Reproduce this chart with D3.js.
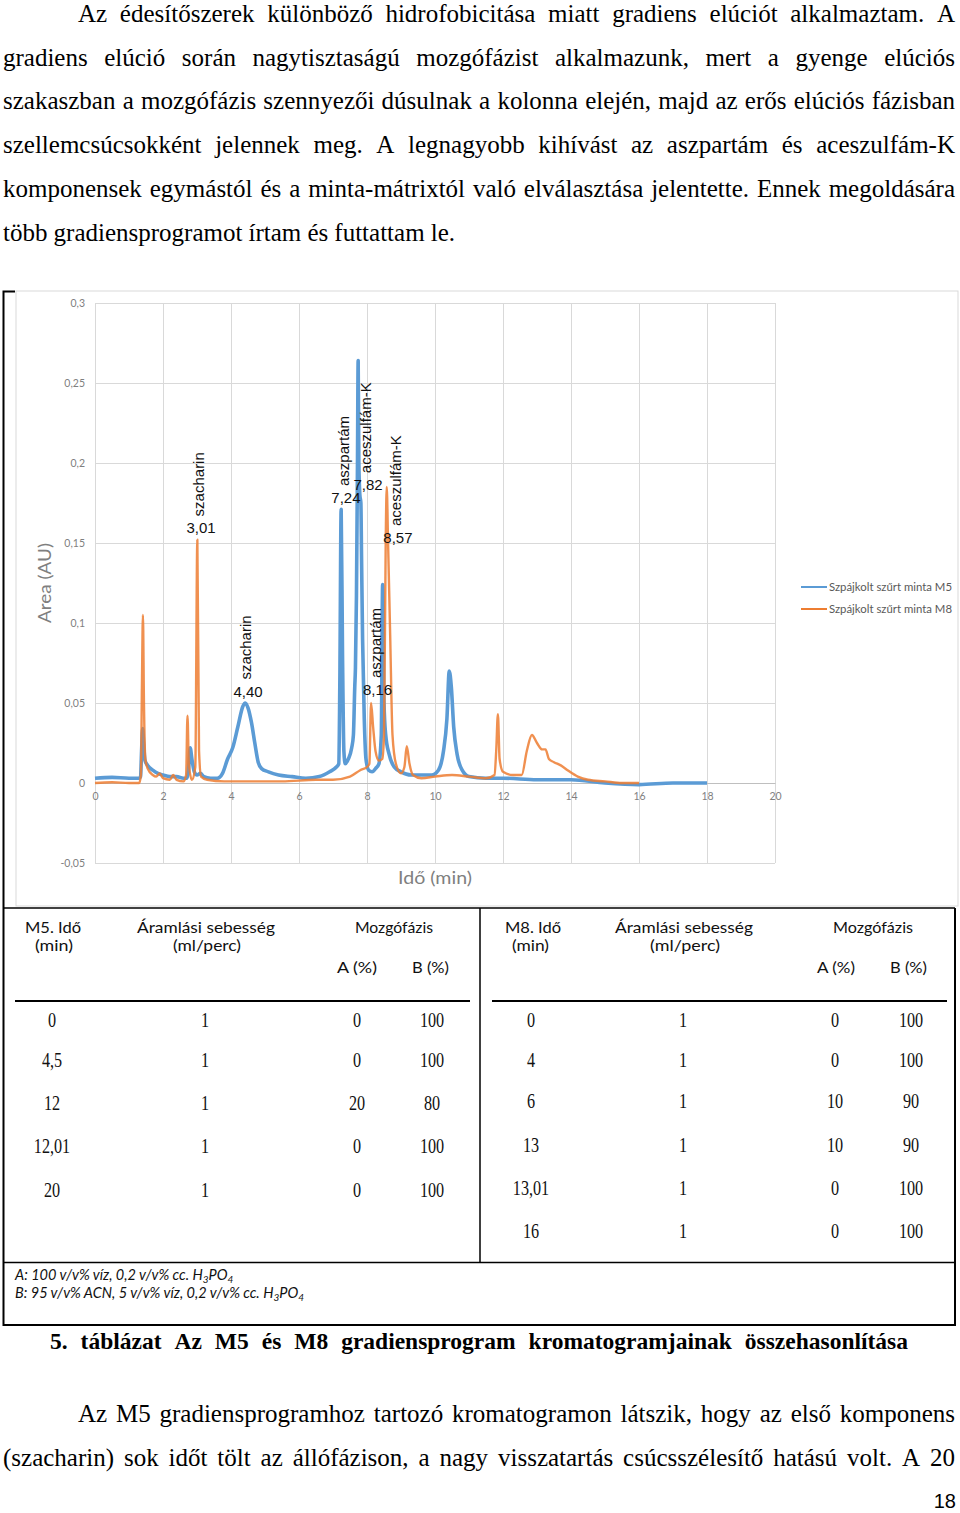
<!DOCTYPE html>
<html><head><meta charset="utf-8">
<script src="https://cdn.jsdelivr.net/npm/d3@7/dist/d3.min.js"></script>
<style>html,body{margin:0;padding:0;background:#fff;}svg{display:block;}</style>
</head><body>
<svg id="page" width="960" height="1513"></svg>
<script>
// ---------------- DATA ----------------
const timeTicks = [0, 2, 4, 6, 8, 10, 12, 14, 16, 18, 20];
const areaTicks = [-0.05, 0, 0.05, 0.1, 0.15, 0.2, 0.25, 0.3];
const seriesNames = ["Szpájkolt szűrt minta M5", "Szpájkolt szűrt minta M8"];

const m5Times = [0,0.5,1.0,1.3,1.34,1.37,1.40,1.43,1.47,1.55,1.7,1.85,2.0,2.2,2.4,2.6,2.7,2.75,2.8,2.85,2.92,3.0,3.1,3.2,3.4,3.6,3.75,3.9,4.05,4.2,4.35,4.42,4.5,4.6,4.7,4.8,4.9,5.1,5.4,5.8,6.2,6.6,6.9,7.1,7.17,7.2,7.24,7.28,7.32,7.36,7.45,7.55,7.6,7.64,7.66,7.69,7.72,7.74,7.76,7.79,7.82,7.84,7.87,7.92,7.97,8.05,8.15,8.25,8.35,8.42,8.46,8.5,8.55,8.65,8.8,9.0,9.3,9.6,9.9,10.1,10.25,10.35,10.42,10.48,10.55,10.65,10.8,11.0,11.5,12,13,14,15,16,17,18];
const m5Values = [0.003,0.0035,0.003,0.003,0.004,0.02,0.034,0.025,0.014,0.011,0.008,0.006,0.005,0.004,0.004,0.003,0.003,0.008,0.022,0.015,0.007,0.005,0.006,0.004,0.003,0.003,0.006,0.015,0.022,0.035,0.048,0.05,0.047,0.038,0.025,0.013,0.009,0.007,0.005,0.004,0.003,0.004,0.007,0.01,0.012,0.06,0.171,0.08,0.02,0.012,0.015,0.022,0.03,0.06,0.072,0.117,0.2,0.264,0.2,0.18,0.175,0.14,0.09,0.04,0.015,0.008,0.007,0.009,0.012,0.03,0.124,0.05,0.03,0.018,0.01,0.007,0.005,0.005,0.005,0.008,0.02,0.04,0.07,0.06,0.035,0.018,0.008,0.004,0.003,0.003,0.002,0.002,0.0,-0.001,0.0,0.0];

const m8Times = [0,0.5,1.0,1.3,1.35,1.38,1.41,1.44,1.48,1.55,1.7,1.8,1.9,2.0,2.2,2.3,2.4,2.6,2.68,2.72,2.76,2.85,2.95,3.01,3.06,3.12,3.3,3.8,4.5,5.5,6.5,7.0,7.5,7.8,8.0,8.07,8.12,8.18,8.25,8.35,8.45,8.5,8.55,8.58,8.62,8.68,8.75,8.85,9.0,9.1,9.17,9.25,9.35,9.6,10,10.5,11,11.5,11.75,11.8,11.85,11.9,12.0,12.3,12.55,12.7,12.85,13.0,13.15,13.25,13.35,13.5,13.7,13.9,14.2,14.5,15,15.5,16];
const m8Values = [0.0,0.0005,0.0,0.0,0.005,0.06,0.105,0.05,0.015,0.009,0.005,0.004,0.006,0.003,0.002,0.005,0.002,0.001,0.005,0.042,0.012,0.002,0.01,0.152,0.02,0.004,0.002,0.001,0.001,0.001,0.002,0.002,0.004,0.008,0.01,0.012,0.05,0.035,0.02,0.014,0.015,0.03,0.15,0.185,0.15,0.094,0.03,0.012,0.006,0.01,0.023,0.012,0.005,0.003,0.004,0.005,0.004,0.003,0.005,0.02,0.043,0.015,0.007,0.005,0.005,0.02,0.03,0.025,0.021,0.021,0.015,0.013,0.011,0.008,0.004,0.002,0.001,0.0,0.0];

const peakNames  = ["szacharin", "szacharin", "aszpartám", "aceszulfám-K", "aceszulfám-K", "aszpartám"];
const peakLabels = ["3,01", "4,40", "7,24", "7,82", "8,57", "8,16"];
const peakLabelTimes  = [3.12, 4.50, 7.38, 8.03, 8.91, 8.31];
const peakLabelValues = [0.156, 0.054, 0.175, 0.183, 0.150, 0.055];

const headerTime = ["M5. Idő", "M8. Idő"];
const headerUnit = "(min)";
const headerFlow = "Áramlási sebesség";
const headerFlowUnit = "(ml/perc)";
const headerPhase = "Mozgófázis";
const headerA = "A (%)";
const headerB = "B (%)";
const m5TableTime = ["0", "4,5", "12", "12,01", "20"];
const m5TableFlow = ["1", "1", "1", "1", "1"];
const m5TableA = ["0", "0", "20", "0", "0"];
const m5TableB = ["100", "100", "80", "100", "100"];
const m8TableTime = ["0", "4", "6", "13", "13,01", "16"];
const m8TableFlow = ["1", "1", "1", "1", "1", "1"];
const m8TableA = ["0", "0", "10", "10", "0", "0"];
const m8TableB = ["100", "100", "90", "90", "100", "100"];

const paraTop = [
  "Az édesítőszerek különböző hidrofobicitása miatt gradiens elúciót alkalmaztam. A",
  "gradiens elúció során nagytisztaságú mozgófázist alkalmazunk, mert a gyenge elúciós",
  "szakaszban a mozgófázis szennyezői dúsulnak a kolonna elején, majd az erős elúciós fázisban",
  "szellemcsúcsokként jelennek meg. A legnagyobb kihívást az aszpartám és aceszulfám-K",
  "komponensek egymástól és a minta-mátrixtól való elválasztása jelentette. Ennek megoldására",
  "több gradiensprogramot írtam és futtattam le."
];
const caption = "5. táblázat Az M5 és M8 gradiensprogram kromatogramjainak összehasonlítása";
const paraBottom = [
  "Az M5 gradiensprogramhoz tartozó kromatogramon látszik, hogy az első komponens",
  "(szacharin) sok időt tölt az állófázison, a nagy visszatartás csúcsszélesítő hatású volt. A 20"
];
const pageNumber = "18";

// ---------------- DRAW ----------------
const svg = d3.select("#page");
const serif = "'Liberation Serif','Times New Roman',serif";
const sans = "Lato,'Liberation Sans',sans-serif";
const arial = "'Liberation Sans',Arial,sans-serif";

function justify(g, text, x0, x1, baseline, size, weight) {
  const words = text.split(" ");
  const nodes = words.map(w => g.append("text").attr("y", baseline)
    .attr("font-family", serif).attr("font-size", size).attr("font-weight", weight || "normal")
    .attr("fill", "#000").text(w));
  const widths = nodes.map(n => n.node().getComputedTextLength());
  const total = d3.sum(widths);
  const gap = words.length > 1 ? (x1 - x0 - total) / (words.length - 1) : 0;
  let x = x0;
  nodes.forEach((n, i) => { n.attr("x", x); x += widths[i] + gap; });
}

// Top paragraph
const tp = svg.append("g");
const topBase = [21.7, 65.5, 109.3, 153.1, 196.9, 240.7];
const topStart = [78, 3, 3, 3, 3, 3];
const topEnd = [955, 955, 955, 955, 955, 455];
paraTop.forEach((l, i) => justify(tp, l, topStart[i], topEnd[i], topBase[i], 25));

// Chart frame
svg.append("rect").attr("x", 16).attr("y", 291).attr("width", 942).attr("height", 615)
  .attr("fill", "#fff").attr("stroke", "#d9d9d9").attr("stroke-width", 1);

const x = d3.scaleLinear().domain([0, 20]).range([95, 775]);
const y = d3.scaleLinear().domain([-0.05, 0.3]).range([863, 303]);
const fmt = d => String(+d.toFixed(2)).replace(".", ",");

const chart = svg.append("g");
// gridlines
chart.append("g").attr("transform", "translate(95,0)")
  .call(d3.axisLeft(y).tickValues(areaTicks).tickSize(-680).tickFormat(""))
  .call(g => g.select(".domain").remove())
  .call(g => g.selectAll("line").attr("stroke", "#d9d9d9"));
chart.append("g").attr("transform", "translate(0,863)")
  .call(d3.axisBottom(x).tickValues(timeTicks).tickSize(-560).tickFormat(""))
  .call(g => g.select(".domain").remove())
  .call(g => g.selectAll("line").attr("stroke", "#d9d9d9"));

// y tick labels
chart.append("g").attr("transform", "translate(95,0)")
  .call(d3.axisLeft(y).tickValues(areaTicks).tickSize(0).tickPadding(10).tickFormat(fmt))
  .call(g => g.select(".domain").remove())
  .call(g => g.selectAll("text").attr("fill", "#7f7f7f").attr("font-size", 10.5).attr("font-family", sans));
// x axis at zero
chart.append("g").attr("transform", `translate(0,${y(0)})`)
  .call(d3.axisBottom(x).tickValues(timeTicks).tickSize(0).tickPadding(10).tickFormat(d => d))
  .call(g => g.select(".domain").attr("stroke", "#bfbfbf"))
  .call(g => g.selectAll("text").attr("fill", "#7f7f7f").attr("font-size", 10.5).attr("font-family", sans));

// lines
const line = d3.line().x(d => x(d[0])).y(d => y(d[1])).curve(d3.curveMonotoneX);
const m5 = m5Times.map((t, i) => [t, m5Values[i]]);
const m8 = m8Times.map((t, i) => [t, m8Values[i]]);
chart.append("path").datum(m5).attr("d", line).attr("fill", "none")
  .attr("stroke", "#5b9bd5").attr("stroke-width", 3.6).attr("stroke-linejoin", "round");
chart.append("path").datum(m8).attr("d", line).attr("fill", "none")
  .attr("stroke", "#ed7d31").attr("stroke-opacity", 0.85).attr("stroke-width", 2.4).attr("stroke-linejoin", "round");

// annotations
peakLabels.forEach((lab, i) => {
  const cx = x(peakLabelTimes[i]), by = y(peakLabelValues[i]);
  chart.append("text").attr("x", cx).attr("y", by).attr("text-anchor", "middle")
    .attr("font-family", arial).attr("font-size", 15).attr("fill", "#111").text(lab);
  chart.append("text").attr("transform", `translate(${cx + 3},${by - 17}) rotate(-90)`)
    .attr("font-family", arial).attr("font-size", 15).attr("fill", "#111").text(peakNames[i]);
});

// axis titles
chart.append("text").attr("transform", "translate(51,583) rotate(-90)").attr("text-anchor", "middle")
  .attr("font-family", sans).attr("font-size", 18).attr("fill", "#7f7f7f")
  .attr("textLength", 80).attr("lengthAdjust", "spacingAndGlyphs").text("Area (AU)");
chart.append("text").attr("x", 398).attr("y", 884)
  .attr("font-family", sans).attr("font-size", 18).attr("fill", "#7f7f7f")
  .attr("textLength", 74).attr("lengthAdjust", "spacingAndGlyphs").text("Idő (min)");

// legend
const legColors = ["#5b9bd5", "#ed7d31"];
seriesNames.forEach((n, i) => {
  const ly = 587 + i * 22;
  chart.append("line").attr("x1", 801).attr("x2", 827).attr("y1", ly).attr("y2", ly)
    .attr("stroke", legColors[i]).attr("stroke-width", 2);
  chart.append("text").attr("x", 829).attr("y", ly + 4).attr("font-family", sans)
    .attr("font-size", 11.5).attr("fill", "#595959")
    .attr("textLength", 123).attr("lengthAdjust", "spacingAndGlyphs").text(n);
});

// ---------------- TABLE ----------------
const tb = svg.append("g");
tb.append("path").attr("d", "M15,291.5H3.5V1325H955V908").attr("fill", "none").attr("stroke", "#000").attr("stroke-width", 2);
tb.append("line").attr("x1", 3).attr("x2", 955).attr("y1", 908).attr("y2", 908).attr("stroke", "#000").attr("stroke-width", 1.5);
tb.append("line").attr("x1", 480).attr("x2", 480).attr("y1", 908).attr("y2", 1262).attr("stroke", "#000").attr("stroke-width", 1.5);
tb.append("line").attr("x1", 3).attr("x2", 955).attr("y1", 1262.5).attr("y2", 1262.5).attr("stroke", "#000").attr("stroke-width", 1.5);
tb.append("line").attr("x1", 15).attr("x2", 470).attr("y1", 1001).attr("y2", 1001).attr("stroke", "#000").attr("stroke-width", 1.8);
tb.append("line").attr("x1", 492).attr("x2", 947).attr("y1", 1001).attr("y2", 1001).attr("stroke", "#000").attr("stroke-width", 1.8);

function head(txt, x0, w, base) {
  tb.append("text").attr("x", x0).attr("y", base).attr("font-family", sans).attr("font-size", 15)
    .attr("fill", "#111").attr("textLength", w).attr("lengthAdjust", "spacingAndGlyphs").text(txt);
}
// left headers
head(headerTime[0], 25, 56, 933); head(headerUnit, 35, 38, 951);
head(headerFlow, 137, 138, 933); head(headerFlowUnit, 173, 68, 951);
head(headerPhase, 355, 78, 933); head(headerA, 337, 40, 973); head(headerB, 412, 37, 973);
// right headers
head(headerTime[1], 505, 56, 933); head(headerUnit, 512, 37, 951);
head(headerFlow, 615, 138, 933); head(headerFlowUnit, 650, 70, 951);
head(headerPhase, 833, 80, 933); head(headerA, 817, 38, 973); head(headerB, 890, 37, 973);

function cell(txt, cx, base) {
  tb.append("text").attr("transform", `translate(${cx},${base}) scale(0.77,1)`).attr("text-anchor", "middle")
    .attr("font-family", serif).attr("font-size", 21).attr("fill", "#111").text(txt);
}
const leftBase = [1027, 1067, 1110, 1153, 1197];
m5TableTime.forEach((t, i) => {
  cell(t, 52, leftBase[i]); cell(m5TableFlow[i], 205, leftBase[i]);
  cell(m5TableA[i], 357, leftBase[i]); cell(m5TableB[i], 432, leftBase[i]);
});
const rightBase = [1027, 1067, 1108, 1152, 1195, 1238];
m8TableTime.forEach((t, i) => {
  cell(t, 531, rightBase[i]); cell(m8TableFlow[i], 683, rightBase[i]);
  cell(m8TableA[i], 835, rightBase[i]); cell(m8TableB[i], 911, rightBase[i]);
});

// footnotes
function foot(prefix, base) {
  const t = tb.append("text").attr("x", 15).attr("y", base).attr("font-family", sans)
    .attr("font-size", 14.5).attr("font-style", "italic").attr("fill", "#111");
  t.append("tspan").text(prefix + "H");
  t.append("tspan").attr("font-size", 10).attr("dy", 3).text("3");
  t.append("tspan").attr("dy", -3).text("PO");
  t.append("tspan").attr("font-size", 10).attr("dy", 3).text("4");
}
foot("A: 100 v/v% víz, 0,2 v/v% cc. ", 1280);
foot("B: 95 v/v% ACN, 5 v/v% víz, 0,2 v/v% cc. ", 1298);

// caption
justify(svg.append("g"), caption, 50, 908, 1348.5, 23.5, "bold");

// bottom paragraph
const bp = svg.append("g");
justify(bp, paraBottom[0], 78, 955, 1421.7, 25);
justify(bp, paraBottom[1], 3, 955, 1465.5, 25);

svg.append("text").attr("x", 956).attr("y", 1508).attr("text-anchor", "end")
  .attr("font-family", arial).attr("font-size", 20).attr("fill", "#000").text(pageNumber);
</script>
</body></html>
